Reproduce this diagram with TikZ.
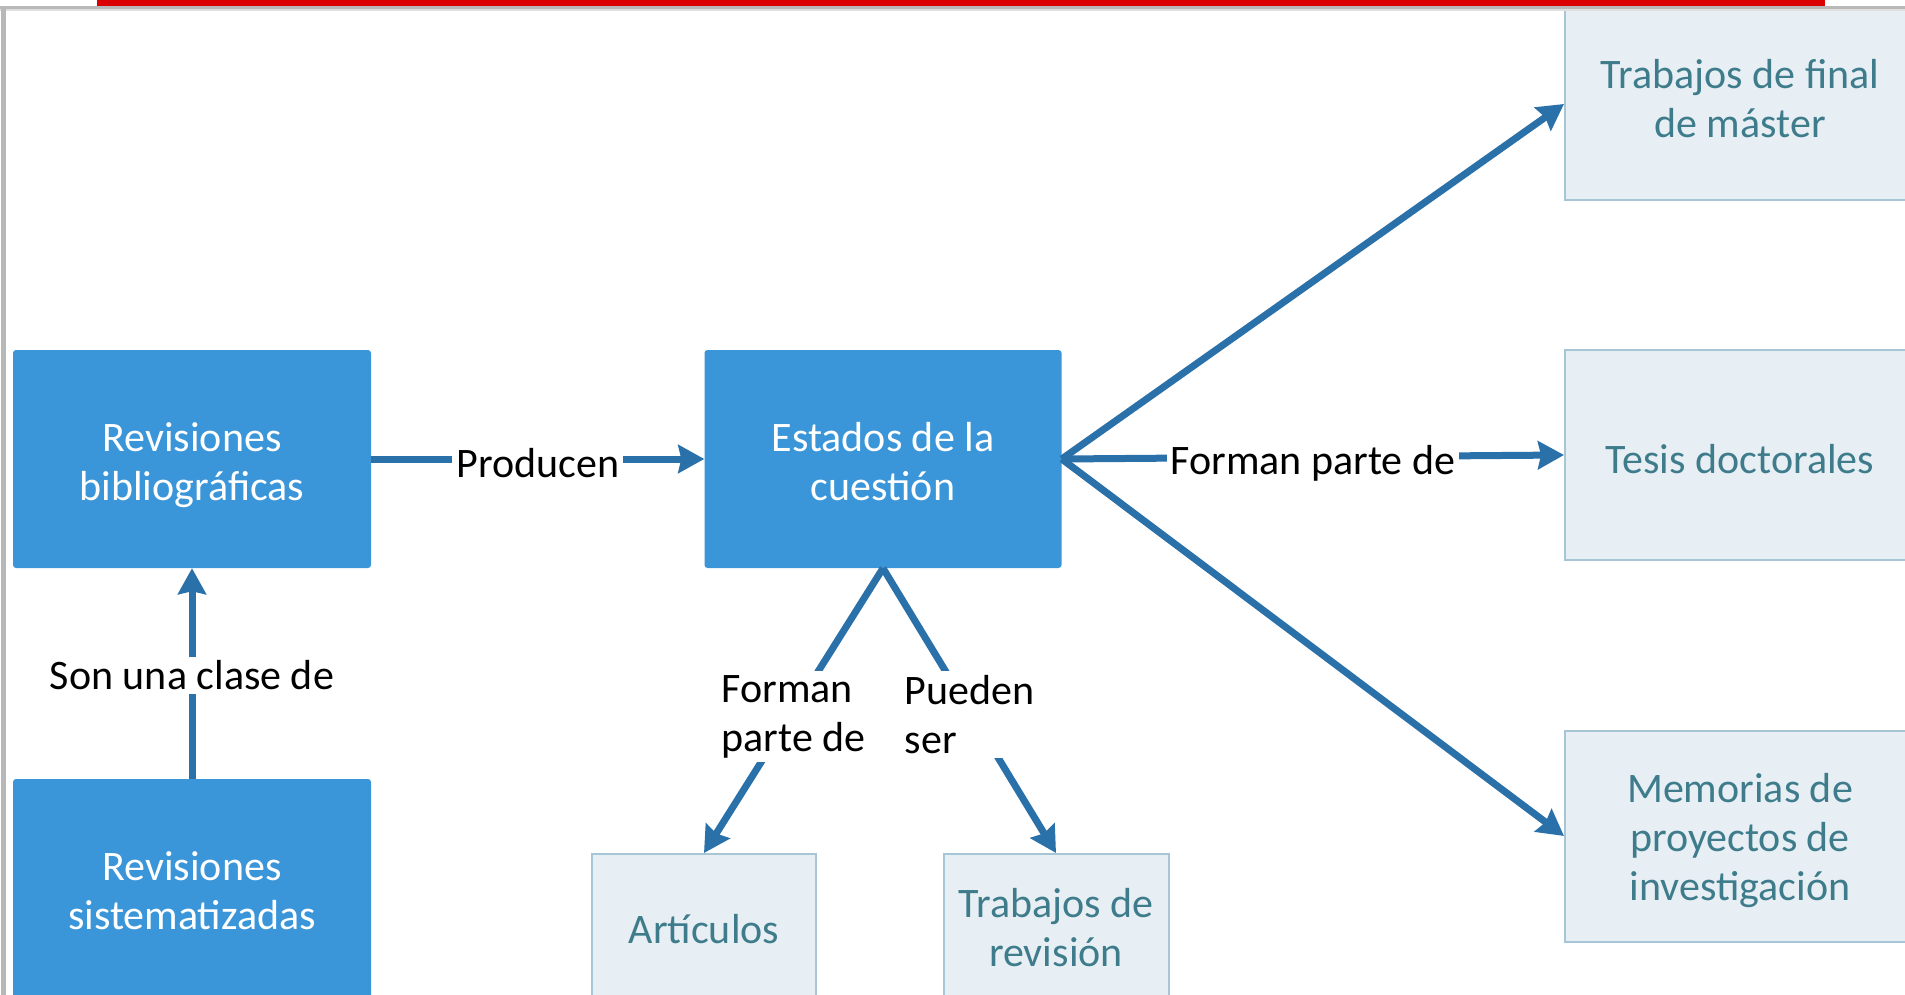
\documentclass[tikz,border=0pt]{standalone}
\usepackage{fontspec}
\setmainfont{Carlito}
\usetikzlibrary{arrows.meta}
\definecolor{boxblue}{HTML}{3A96D9}
\definecolor{arrowblue}{HTML}{2A70A9}
\definecolor{lightfill}{HTML}{E7EFF4}
\definecolor{lightdraw}{HTML}{A6C6D6}
\definecolor{tealtext}{HTML}{3E7C8C}
\definecolor{redbar}{HTML}{DA0000}
\definecolor{framegray}{HTML}{B8B8B8}
\begin{document}
\begin{tikzpicture}[x=1pt,y=-1pt,
  darkbox/.style={rectangle, fill=boxblue, rounded corners=3pt, inner sep=0pt},
  lightbox/.style={rectangle, fill=lightfill, draw=lightdraw, line width=2pt, inner sep=0pt},
  darktxt/.style={text=white, align=center, font=\fontsize{42}{49}\selectfont, inner sep=0pt},
  lighttxt/.style={text=tealtext, align=center, font=\fontsize{42}{49}\selectfont, inner sep=0pt},
  conn/.style={draw=arrowblue, line width=7pt, -{Stealth[length=26pt,width=28pt,inset=3pt]}},
  lbl/.style={fill=white, text=black, font=\fontsize{42}{49}\selectfont, inner sep=4pt, align=left}
]
\path[use as bounding box] (0,0) rectangle (1905,995);
\clip (0,0) rectangle (1905,995);
\fill[white] (0,0) rectangle (1905,995);

% nodes
\node[darkbox, minimum width=358pt, minimum height=218pt,
  label={[darktxt, yshift=-6pt]center:Revisiones\\bibliográficas}] (rb) at (192,459) {};
\node[darkbox, minimum width=358pt, minimum height=224pt,
  label={[darktxt]center:Revisiones\\sistematizadas}] (rs) at (192,891) {};
\node[darkbox, minimum width=357pt, minimum height=218pt,
  label={[darktxt, yshift=-3pt]center:Estados de la\\cuestión}] (ec) at (883,459) {};
\node[lightbox, minimum width=224pt, minimum height=150pt,
  label={[lighttxt]center:Artículos}] (art) at (704,929) {};
\node[lightbox, minimum width=225pt, minimum height=148pt,
  label={[lighttxt]center:Trabajos de\\revisión}] (tr) at (1056,928) {};
\node[lightbox, minimum width=350pt, minimum height=192pt,
  label={[lighttxt, yshift=5pt]center:Trabajos de final\\de máster}] (tfm) at (1740,104) {};
\node[lightbox, minimum width=350pt, minimum height=210pt,
  label={[lighttxt, yshift=-4pt]center:Tesis doctorales}] (td) at (1740,455) {};
\node[lightbox, minimum width=350pt, minimum height=211pt,
  label={[lighttxt, yshift=-5pt]center:Memorias de\\proyectos de\\investigación}] (mem) at (1740,836) {};

% connectors
\draw[conn] (rs.north) -- node[lbl, midway, yshift=-2pt] (l1) {Son una clase de} (rb.south);
\draw[conn] (rb.east) -- node[lbl, midway, yshift=-4pt] (l2) {Producen} (ec.west);
\draw[conn] (ec.east) -- (tfm.west);
\draw[conn] (ec.east) -- (mem.west);
\draw[conn] (ec.east) -- node[lbl, midway, yshift=-6pt] (l3) {Forman parte de} (td.west);
\draw[conn] (ec.south) -- node[lbl, midway, yshift=-6pt] (l4) {Forman\\parte de} (art.north);
\draw[conn] (ec.south) -- node[lbl, midway, yshift=-4pt] (l5) {Pueden\\ser} (tr.north);

% frame decoration
\fill[framegray] (0,6) rectangle (1905,9);
\fill[gray!25] (0,9) rectangle (1905,11);
\fill[redbar] (97,0) rectangle (1825,6);
\fill[framegray] (1,6) rectangle (6,995);
\end{tikzpicture}
\end{document}
